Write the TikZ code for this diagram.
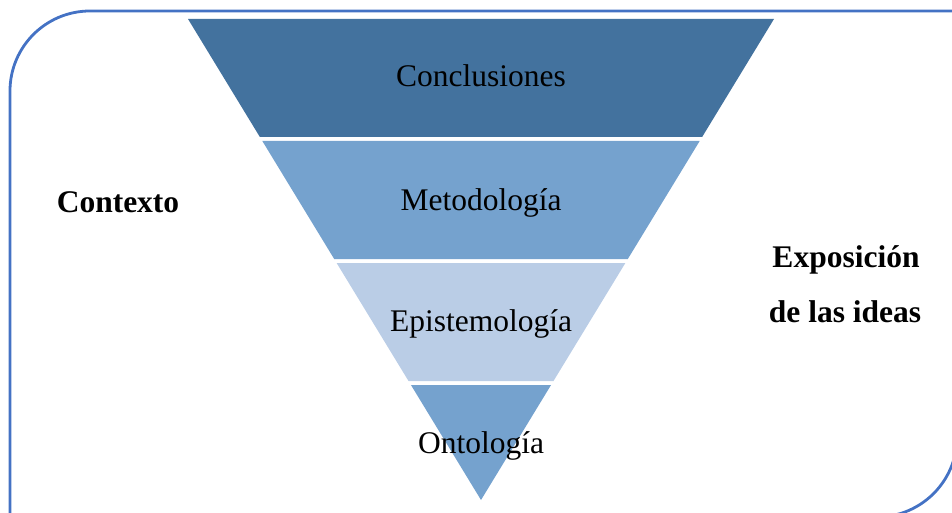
\documentclass[tikz,border=0pt]{standalone}
\usepackage{fontspec}
\setmainfont{Liberation Serif}
\definecolor{bandA}{RGB}{67,114,158}
\definecolor{bandB}{RGB}{117,162,206}
\definecolor{bandC}{RGB}{186,205,230}
\definecolor{frame}{RGB}{68,114,196}
\tikzset{
  lbl/.style={anchor=base, inner sep=0pt, font=\fontsize{31.5}{36}\selectfont},
  blbl/.style={lbl, font=\fontsize{31.5}{36}\selectfont\bfseries},
}
\begin{document}
\begin{tikzpicture}[x=1pt,y=-1pt]
\useasboundingbox (0,0) rectangle (952,513);
\clip (0,0) rectangle (952,513);
\draw[frame, line width=2.8pt, line join=round]
  (10,530) -- (10,91) arc[start angle=180, end angle=270, radius=80]
  -- (970,11) (957,0) -- (957,437) arc[start angle=0, end angle=90, radius=80]
  -- (0,517);
% bands
\fill[bandA] (188,19) -- (774,19) -- (702.13,137) -- (259.87,137) -- cycle;
\fill[bandB] (262.31,141) -- (699.69,141) -- (627.81,259) -- (334.19,259) -- cycle;
\fill[bandC] (336.63,263) -- (625.37,263) -- (553.49,381) -- (408.51,381) -- cycle;
\fill[bandB] (410.95,385) -- (551.05,385) -- (481,500) -- cycle;
% labels
\node[lbl] (concl) at (481,87) {Conclusiones};
\node[lbl] (metod) at (481,210) {Metodología};
\node[lbl] (epist) at (481,331) {Epistemología};
\node[lbl] (onto) at (481,453) {Ontología};
\node[blbl] (ctx) at (118,212) {Contexto};
\node[blbl] (expo) at (846,267) {Exposición};
\node[blbl] (ideas) at (845,322) {de las ideas};
\end{tikzpicture}
\end{document}
